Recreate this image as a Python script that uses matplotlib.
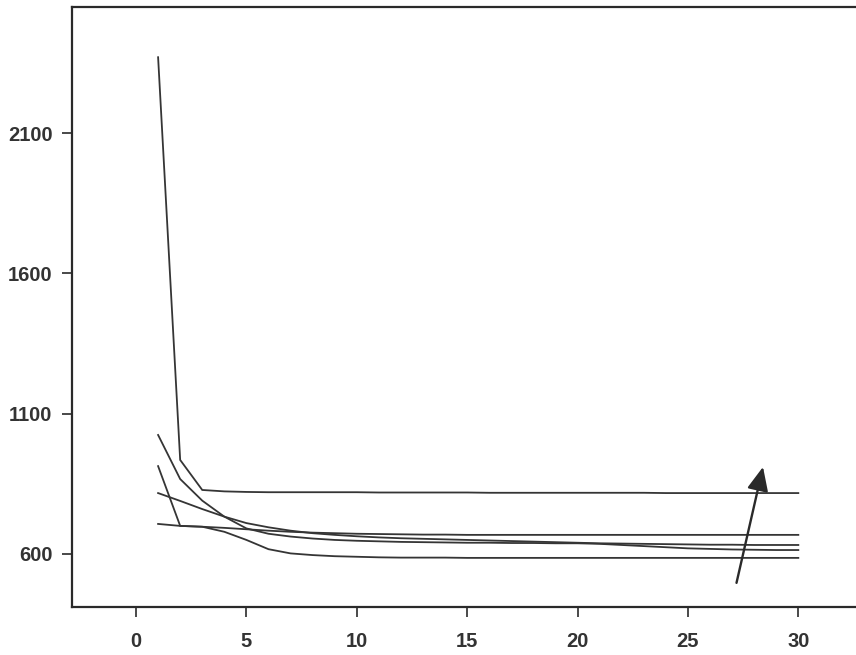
import matplotlib
matplotlib.use("Agg")
import matplotlib.pyplot as plt

# ---- data ----
iterations = list(range(1, 31))

series_a = [2370, 935, 828, 823, 821, 820, 820, 820, 820, 820,
            819, 819, 819, 819, 819, 818, 818, 818, 818, 818,
            818, 818, 818, 817, 817, 817, 817, 817, 817, 817]
series_b = [1024, 867, 790, 733, 691, 672, 662, 655, 650, 647,
            645, 643, 642, 641, 640, 640, 639, 639, 638, 638,
            636, 632, 628, 624, 620, 618, 616, 615, 614, 614]
series_c = [913, 700, 697, 679, 650, 617, 602, 596, 592, 590,
            588, 587, 587, 587, 586, 586, 586, 586, 586, 586,
            586, 586, 586, 586, 586, 586, 586, 586, 586, 586]
series_d = [817, 789, 760, 733, 710, 695, 683, 674, 668, 663,
            659, 656, 654, 652, 650, 648, 646, 644, 642, 640,
            638, 637, 636, 635, 634, 633, 633, 632, 632, 632]
series_e = [707, 700, 697, 693, 688, 683, 679, 676, 674, 672,
            671, 670, 669, 669, 668, 668, 668, 668, 668, 668,
            668, 668, 668, 668, 668, 668, 668, 668, 668, 668]

x_ticks = [0, 5, 10, 15, 20, 25, 30]
y_ticks = [600, 1100, 1600, 2100]

arrow_start = (27.2, 497)
arrow_end = (28.4, 910)

# ---- figure ----
W, H = 856, 655
fig = plt.figure(figsize=(W / 100, H / 100), dpi=100)
fig.patch.set_facecolor("white")

left_px, right_px, bottom_px, top_px = 72, 880, 607, 7
ax = fig.add_axes([left_px / W, 1 - bottom_px / H,
                   (right_px - left_px) / W, (bottom_px - top_px) / H])

line_color = "#353535"
for s in [series_a, series_b, series_c, series_d, series_e]:
    ax.plot(iterations, s, color=line_color, lw=1.3, solid_joinstyle="miter")

ax.set_xlim(-2.9, 33.7)
ax.set_ylim(411, 2549)
ax.set_xticks(x_ticks)
ax.set_yticks(y_ticks)
ax.set_xticklabels([str(t) for t in x_ticks])
ax.set_yticklabels([str(t) for t in y_ticks])

for sp in ax.spines.values():
    sp.set_color("#2a2a2a")
    sp.set_linewidth(1.6)

ax.tick_params(axis="both", direction="out", length=7, width=1.2,
               color="#2a2a2a", labelsize=14.5, labelcolor="#333333")
ax.tick_params(axis="x", pad=11)
ax.tick_params(axis="y", pad=7)
for lab in ax.get_xticklabels() + ax.get_yticklabels():
    lab.set_fontfamily("Liberation Sans")
    lab.set_fontweight("bold")

ax.annotate("", xy=arrow_end, xytext=arrow_start,
            arrowprops=dict(arrowstyle="-|>,head_length=1.45,head_width=0.65",
                            color="#2a2a2a", lw=1.7, shrinkA=0, shrinkB=0))

fig.savefig("out.png", dpi=100, facecolor="white")
